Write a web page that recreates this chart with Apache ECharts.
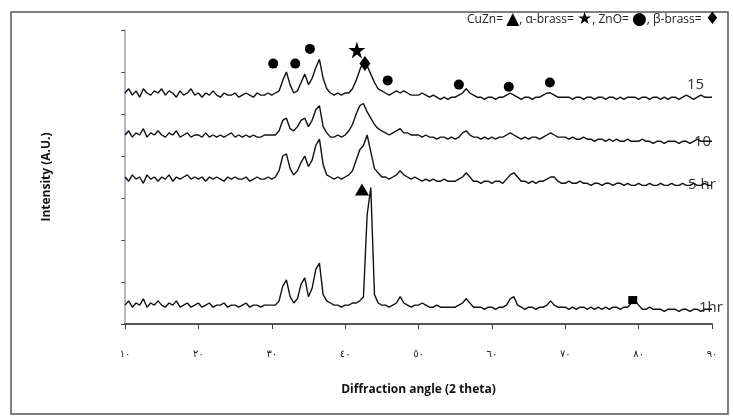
<!DOCTYPE html>
<html>
<head>
<meta charset="utf-8">
<script src="https://cdn.jsdelivr.net/npm/echarts@6/dist/echarts.min.js"></script>
<style>
  html, body { margin: 0; padding: 0; background: #fff; }
  #xrd-chart { width: 733px; height: 420px; }
</style>
</head>
<body>
<div id="xrd-chart"></div>
<script>
// 2 theta sample points, 10..90 every 0.5 deg
var angles = [
  10,10.5,11,11.5,12,12.5,13,13.5,14,14.5, 15,15.5,16,16.5,17,17.5,18,18.5,19,19.5,
  20,20.5,21,21.5,22,22.5,23,23.5,24,24.5, 25,25.5,26,26.5,27,27.5,28,28.5,29,29.5,
  30,30.5,31,31.5,32,32.5,33,33.5,34,34.5, 35,35.5,36,36.5,37,37.5,38,38.5,39,39.5,
  40,40.5,41,41.5,42,42.5,43,43.5,44,44.5, 45,45.5,46,46.5,47,47.5,48,48.5,49,49.5,
  50,50.5,51,51.5,52,52.5,53,53.5,54,54.5, 55,55.5,56,56.5,57,57.5,58,58.5,59,59.5,
  60,60.5,61,61.5,62,62.5,63,63.5,64,64.5, 65,65.5,66,66.5,67,67.5,68,68.5,69,69.5,
  70,70.5,71,71.5,72,72.5,73,73.5,74,74.5, 75,75.5,76,76.5,77,77.5,78,78.5,79,79.5,
  80,80.5,81,81.5,82,82.5,83,83.5,84,84.5, 85,85.5,86,86.5,87,87.5,88,88.5,89,89.5,
  90
];

// intensities (offset patterns, arbitrary units)
var milled15 = [
  110,112,109,111,108,112,110,109,111,110, 112,109,111,110,108,111,109,110,112,109,
  110,108,110,109,111,109,108,110,109,109, 110,108,109,110,109,108,110,109,109,110,
  109,110,111,116,120,114,110,111,115,119, 114,117,122,126,117,112,110,109,110,109,
  110,110,112,116,121,125,123,119,115,112, 111,110,109,110,111,110,111,110,109,109,
  109,110,109,108,109,108,107,108,107,108, 108,109,110,112,110,109,108,108,107,108,
  108,107,108,108,109,110,109,108,107,108, 108,107,108,108,109,110,110,109,108,108,
  108,108,107,108,108,107,108,108,107,108, 108,107,108,108,107,108,107,108,108,108,
  107,108,108,107,108,108,107,108,107,108, 108,107,108,109,108,107,108,109,108,108,
  108
];
var milled10 = [
  90,92,89,91,90,93,89,91,90,92, 90,89,91,90,92,89,90,91,89,90,
  90,89,91,89,90,89,90,89,90,91, 89,90,89,90,89,90,89,89,90,90,
  90,90,92,97,98,93,92,94,97,98, 94,97,102,104,94,91,89,89,90,89,
  90,92,95,100,104,105,101,98,95,93, 92,91,90,91,92,93,91,91,90,90,
  90,89,90,89,89,88,89,89,88,89, 88,89,91,92,90,89,89,88,89,88,
  89,88,89,89,90,91,90,89,88,89, 88,89,89,88,89,90,91,90,89,89,
  89,88,89,88,88,89,88,88,87,88, 88,87,88,87,88,87,87,88,87,87,
  87,88,87,87,86,87,87,86,87,87, 87,86,87,87,86,87,88,87,87,87,
  87
];
var milled5 = [
  70,68,71,69,70,67,71,69,70,68, 70,69,71,68,70,69,70,71,69,70,
  69,70,68,70,69,70,69,68,70,69, 70,69,69,70,68,69,70,69,69,70,
  69,70,73,80,81,74,71,73,77,80, 75,78,85,88,76,71,70,69,70,69,
  70,71,73,78,83,85,90,82,74,72, 70,70,69,70,71,73,71,70,69,70,
  69,68,69,68,69,68,68,69,68,68, 68,69,70,72,70,68,68,67,68,68,
  67,68,68,67,69,71,72,70,68,68, 67,68,67,68,68,69,70,70,68,67,
  67,68,67,67,68,67,67,66,67,67, 66,67,67,66,67,67,66,67,66,66,
  67,66,66,67,66,66,67,66,66,67, 66,66,67,66,66,67,66,66,67,66,
  66
];
var milled1 = [
  9,11,8,10,9,12,8,10,9,11, 9,8,10,9,11,8,9,10,8,9,
  10,8,9,10,8,9,9,10,8,9, 9,8,9,10,8,9,9,8,9,9,
  9,9,11,18,21,13,10,12,19,22, 13,17,26,29,14,11,10,9,9,8,
  9,9,10,10,11,13,52,65,14,10, 9,9,8,9,10,13,10,9,8,9,
  9,10,9,8,8,9,8,8,8,8, 8,9,10,12,10,8,8,8,7,8,
  8,7,8,8,9,12,13,9,8,7, 8,8,7,8,8,9,11,9,8,8,
  8,7,8,7,8,8,7,8,7,8, 7,8,7,8,8,7,8,8,10,11,
  9,7,7,8,7,7,7,6,7,7, 7,6,7,7,6,7,7,6,7,7,
  7
];

// phase markers [2theta, height]
var zincOxideMarks = [[30.2, 124], [33.2, 124], [35.2, 131], [45.8, 116], [55.5, 114], [62.3, 113], [67.9, 115]];
var alphaBrassMarks = [[41.6, 130.5]];
var betaBrassMarks = [[42.7, 124]];
var cuZnMarks = [[42.3, 64]];
var squareMarks = [[79.2, 11.4]];

var xTickLabels = ["١٠", "٢٠", "٣٠", "٤٠", "٥٠", "٦٠", "٧٠", "٨٠", "٩٠"];
var curveNames = ["15", "10", "5 hr", "1hr"];

var starPath = "path://M50,0 L61,35 L98,35 L68,57 L79,91 L50,70 L21,91 L32,57 L2,35 L39,35 Z";

function pairs(ys) {
  return angles.map(function (a, i) { return [a, ys[i]]; });
}

function curve(name, ys) {
  return {
    name: name,
    type: "line",
    data: pairs(ys),
    showSymbol: false,
    silent: true,
    lineStyle: { color: "#111", width: 1.4 },
    z: 2
  };
}

function marks(name, data, symbol, size) {
  return {
    name: name,
    type: "scatter",
    data: data,
    symbol: symbol,
    symbolSize: size,
    itemStyle: { color: "#000", opacity: 1 },
    z: 3
  };
}

var myChart = echarts.init(document.getElementById("xrd-chart"));

var option = {
  backgroundColor: "#fff",
  animation: false,
  grid: { left: 125, right: 21, top: 30, bottom: 96 },
  xAxis: {
    type: "value",
    min: 10,
    max: 90,
    interval: 10,
    name: "Diffraction angle (2 theta)",
    nameLocation: "middle",
    nameGap: 60,
    nameTextStyle: { fontFamily: "Open Sans", fontWeight: "bold", fontSize: 12, color: "#111" },
    axisLine: { lineStyle: { color: "#555", width: 2 } },
    axisTick: { show: true, length: 5, lineStyle: { color: "#444" } },
    axisLabel: {
      margin: 25,
      fontFamily: "DejaVu Sans",
      fontSize: 10,
      color: "#222",
      formatter: function (v) { return xTickLabels[Math.round((v - 10) / 10)]; }
    },
    splitLine: { show: false }
  },
  yAxis: {
    type: "value",
    min: 0,
    max: 140,
    interval: 20,
    name: "Intensity (A.U.)",
    nameLocation: "middle",
    nameGap: 72,
    nameTextStyle: { fontFamily: "Open Sans", fontWeight: "bold", fontSize: 12, color: "#111" },
    axisLine: { show: true, lineStyle: { color: "#9aa0b2", width: 1.5 } },
    axisTick: { show: true, length: 4, lineStyle: { color: "#555" } },
    axisLabel: { show: false },
    splitLine: { show: false }
  },
  series: [
    curve(curveNames[0], milled15),
    curve(curveNames[1], milled10),
    curve(curveNames[2], milled5),
    curve(curveNames[3], milled1),
    marks("ZnO", zincOxideMarks, "circle", 10),
    marks("α-brass", alphaBrassMarks, starPath, 17),
    marks("β-brass", betaBrassMarks, "diamond", [11, 15]),
    marks("CuZn", cuZnMarks, "triangle", [14, 12]),
    marks("other", squareMarks, "rect", [9, 8])
  ],
  graphic: [
    {
      type: "rect",
      shape: { x: 11, y: 12, width: 717, height: 402 },
      style: { fill: "none", stroke: "#555", lineWidth: 1.5 },
      silent: true
    },
    {
      type: "text",
      style: {
        x: 720, y: 20,
        text: "CuZn= {s|▲}, α-brass= {s|★}, ZnO= {s|●}, β-brass= {s|♦}",
        align: "right",
        verticalAlign: "middle",
        fontFamily: "Open Sans",
        fontSize: 12,
        fill: "#222",
        rich: { s: { fontFamily: "DejaVu Sans", fontSize: 17, fill: "#000" } }
      }
    },
    { type: "text", style: { x: 687, y: 85, text: curveNames[0], verticalAlign: "middle", fontFamily: "Open Sans", fontSize: 15, fill: "#333" } },
    { type: "text", style: { x: 694, y: 142, text: curveNames[1], verticalAlign: "middle", fontFamily: "Open Sans", fontSize: 15, fill: "#333" } },
    { type: "text", style: { x: 688, y: 185, text: curveNames[2], verticalAlign: "middle", fontFamily: "Open Sans", fontSize: 15, fill: "#333" } },
    { type: "text", style: { x: 699, y: 308, text: curveNames[3], verticalAlign: "middle", fontFamily: "Open Sans", fontSize: 15, fill: "#333" } }
  ]
};
myChart.setOption(option);
</script>
</body>
</html>
